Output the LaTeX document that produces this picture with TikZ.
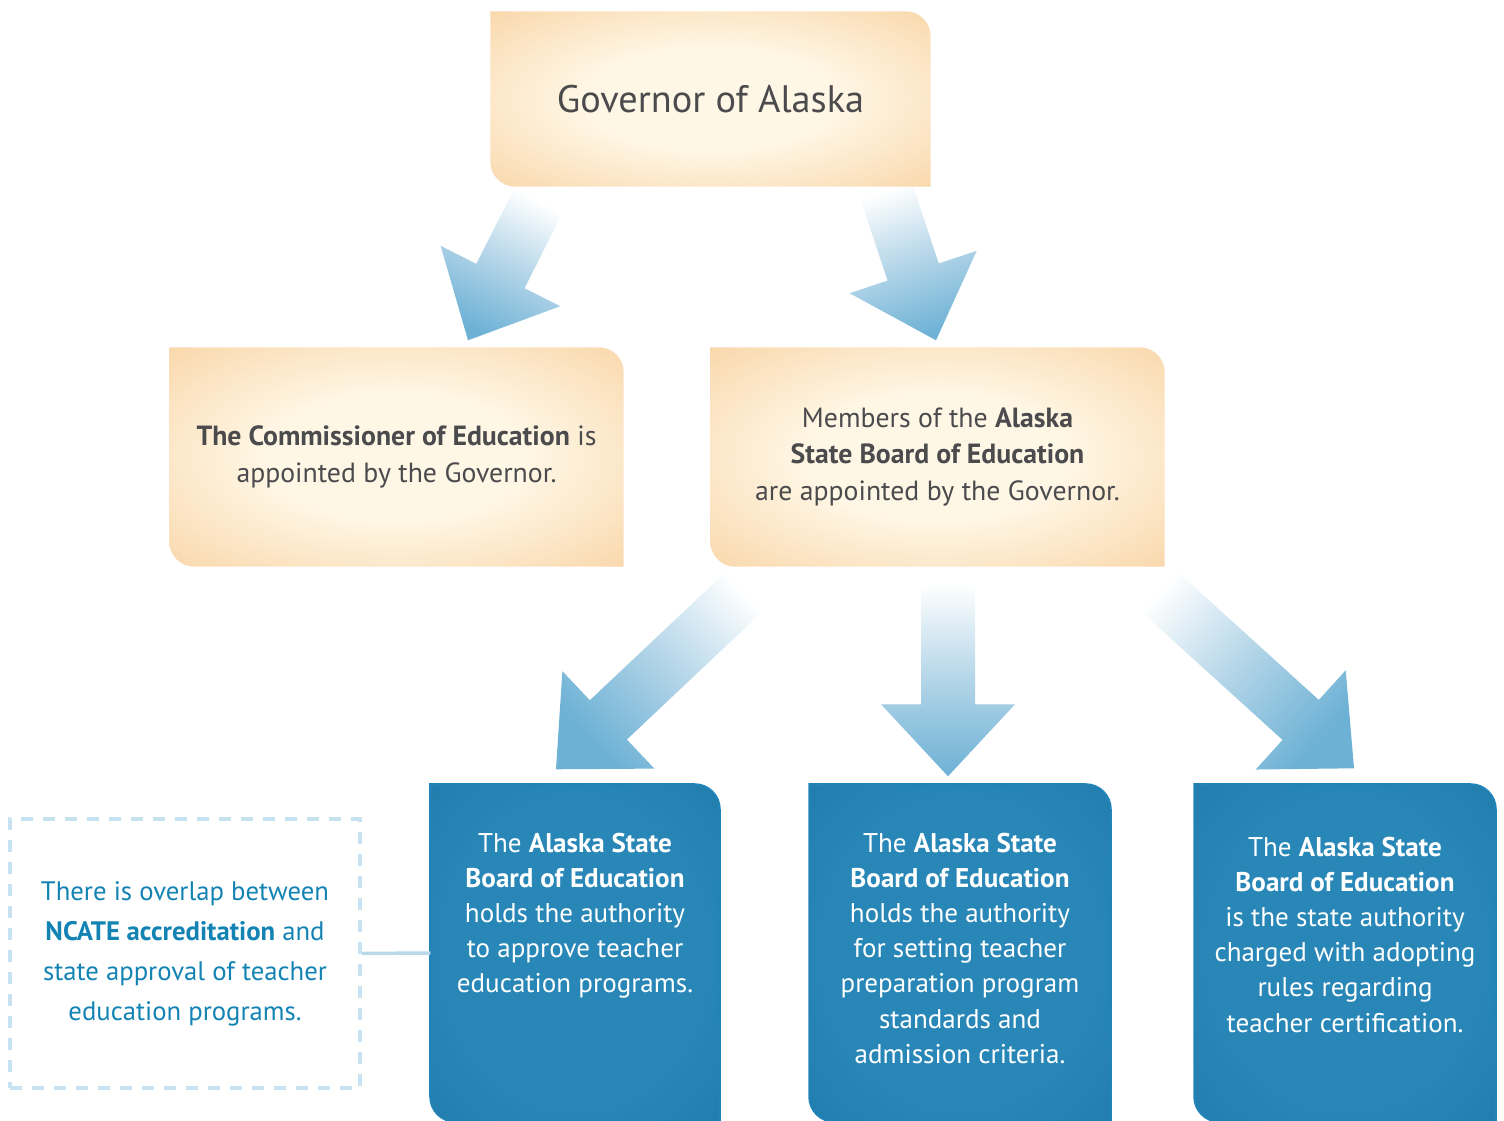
\documentclass[tikz,border=0pt]{standalone}
\usepackage{fontspec}
\setmainfont{PT Sans}
\usetikzlibrary{positioning, calc, backgrounds}
\definecolor{textgrey}{HTML}{4B4B4D}
\definecolor{warmcore}{HTML}{FFF7E6}
\definecolor{warmmid}{HTML}{FADAB0}
\definecolor{warmrim}{HTML}{F1B47D}
\definecolor{warmcorner}{HTML}{EBA468}
\definecolor{seacore}{HTML}{2887B7}
\definecolor{searim}{HTML}{1C74A4}
\definecolor{seacorner}{HTML}{135E88}
\definecolor{seaedge}{HTML}{2283B6}
\definecolor{notetext}{HTML}{1283B3}
\definecolor{noteline}{HTML}{C7E2F0}
\definecolor{linkline}{HTML}{B9D8EA}
\definecolor{arrowblue}{HTML}{6DB1D5}
\definecolor{arrowmid}{HTML}{B3D5E8}
\pgfdeclareradialshading{warmglow}{\pgfpoint{0bp}{0bp}}{color(0bp)=(warmcore); color(14bp)=(warmcore); color(34bp)=(warmmid); color(48bp)=(warmrim); color(72bp)=(warmcorner)}
\pgfdeclareradialshading{seaglow}{\pgfpoint{0bp}{0bp}}{color(0bp)=(seacore); color(22bp)=(seacore); color(48bp)=(searim); color(72bp)=(seacorner)}

% box with round top-right and bottom-left corners
\newcommand{\leafshape}[2]{%
  \path[#2] (#1.north west) -- ([xshift=-2.5mm]#1.north east) arc[start angle=90, end angle=0, radius=2.5mm]
    -- (#1.south east) -- ([xshift=2.5mm]#1.south west) arc[start angle=270, end angle=180, radius=2.5mm] -- cycle;}
% wide block arrow, tail -> tip
\newcommand{\bigarrow}[3]{%
  \coordinate (neck) at ($(#2)!7.2mm!(#1)$);
  \path[arrowshade, shading angle=#3]
    ($(#1)!2.7mm!90:(#2)$) -- ($(neck)!2.7mm!-90:(#1)$) -- ($(neck)!6.7mm!-90:(#1)$) -- (#2)
    -- ($(neck)!6.7mm!90:(#1)$) -- ($(neck)!2.7mm!90:(#1)$) -- ($(#1)!2.7mm!-90:(#2)$) -- cycle;}

\begin{document}
\begin{tikzpicture}[
  every node/.style={font=\fontsize{7.9}{10.5}\selectfont, text=textgrey},
  warmbox/.style={rectangle, minimum width=4.53cm, minimum height=2.18cm, align=center, inner sep=0pt},
  seabox/.style={rectangle, minimum width=3cm, minimum height=3.36cm, inner sep=0pt},
  seatext/.style={font=\fontsize{7.7}{10}\selectfont, text=white, align=center, inner sep=0pt},
  notebox/.style={rectangle, draw=noteline, line width=0.4mm, dash pattern=on 1.2mm off 1mm, minimum width=3.5cm, minimum height=2.69cm, align=center, text=notetext, font=\fontsize{7.6}{11.4}\selectfont},
  warmfill/.style={shade, shading=warmglow},
  seafill/.style={shade, shading=seaglow, draw=seaedge, line width=0.6pt},
  arrowshade/.style={top color=white, bottom color=arrowblue, middle color=arrowmid},
]
\useasboundingbox (0,0) rectangle (15.04,-11.21);

\node[warmbox, minimum width=4.39cm, minimum height=1.74cm, font=\fontsize{10.9}{13}\selectfont] (gov) at (7.105,-0.99) {Governor of Alaska};
\node[warmbox] (comm) at (3.965,-4.57) {\textbf{The Commissioner of Education} is\\appointed by the Governor.};
\node[warmbox] (board) at (9.375,-4.57) {Members of the \textbf{Alaska}\\\textbf{State Board of Education}\\are appointed by the Governor.};

\node[seabox, minimum width=2.88cm] (approve) at (5.75,-9.53) {};
\node[seabox] (standards) at (9.60,-9.53) {};
\node[seabox] (cert) at (13.45,-9.53) {};
\node[seatext, below=0.48cm of approve.north] (approvetxt) {The \textbf{Alaska State}\\\textbf{Board of Education}\\holds the authority\\to approve teacher\\education programs.};
\node[seatext, below=0.48cm of standards.north] (standardstxt) {The \textbf{Alaska State}\\\textbf{Board of Education}\\holds the authority\\for setting teacher\\preparation program\\standards and\\admission criteria.};
\node[seatext, below=0.52cm of cert.north] (certtxt) {The \textbf{Alaska State}\\\textbf{Board of Education}\\is the state authority\\charged with adopting\\rules regarding\\teacher certification.};

% NCATE note
\node[notebox] (note) at (1.85,-9.535) {There is overlap between\\\textbf{NCATE accreditation} and\\state approval of teacher\\education programs.};
\draw[linkline, line width=0.35mm] (note.east) -- (approve.west);

\coordinate (t1) at ($(gov.south)+(-1.705,-0.11)$);
\coordinate (h1) at ($(comm.north)+(0.715,0.07)$);
\coordinate (t2) at ($(gov.south)+(1.755,-0.04)$);
\coordinate (h2) at ($(board.north)+(-0.015,0.07)$);
\coordinate (t3) at ($(board.south)+(-1.795,-0.12)$);
\coordinate (h3) at ($(approve.north)+(-0.19,0.15)$);
\coordinate (t4) at ($(board.south)+(0.105,-0.17)$);
\coordinate (h4) at ($(standards.north)+(-0.12,0.08)$);
\coordinate (t5) at ($(board.south)+(2.075,-0.12)$);
\coordinate (h5) at ($(cert.north)+(0.09,0.16)$);

\begin{pgfonlayer}{background}
\bigarrow{t1}{h1}{-27}
\bigarrow{t2}{h2}{18}
\bigarrow{t3}{h3}{-46}
\bigarrow{t4}{h4}{0}
\bigarrow{t5}{h5}{48}
\leafshape{gov}{warmfill}
\leafshape{comm}{warmfill}
\leafshape{board}{warmfill}
\leafshape{approve}{seafill}
\leafshape{standards}{seafill}
\leafshape{cert}{seafill}
\end{pgfonlayer}
\end{tikzpicture}
\end{document}
